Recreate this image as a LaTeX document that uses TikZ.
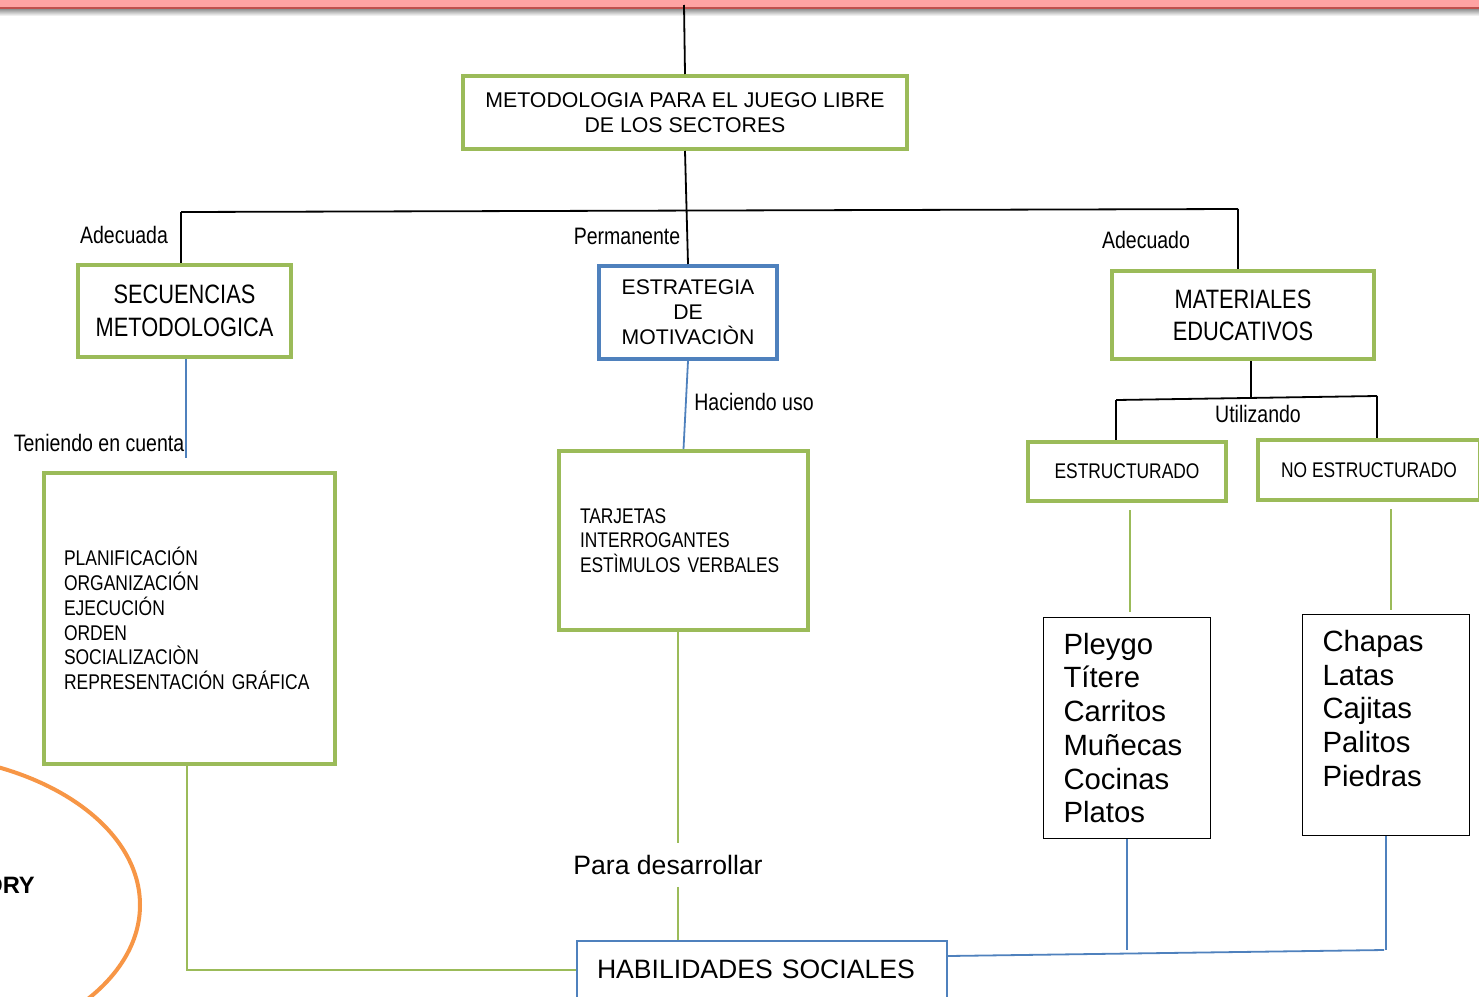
\documentclass[tikz,border=0pt]{standalone}
\usepackage{fontspec}
\setmainfont{Liberation Sans}
\newfontfamily\narrowfont[FakeStretch=0.82]{Liberation Sans}
\usepackage{tikz}
\usetikzlibrary{positioning, calc}
\definecolor{mapgreen}{HTML}{9BBB59}
\definecolor{mapblue}{HTML}{4F81BD}
\definecolor{maporange}{HTML}{F79646}
\definecolor{bandpink}{HTML}{FFA3A3}
\definecolor{bandred}{HTML}{C0504D}

\begin{document}
\begin{tikzpicture}[
        x=1pt, y=-1pt,
        greenbox/.style={draw=mapgreen, line width=4pt, inner sep=0pt},
        bluebox/.style={draw=mapblue, line width=4pt, inner sep=0pt},
        listbox/.style={draw=black, line width=1.3pt, align=left, inner xsep=20pt, inner ysep=0pt,
          minimum height=221pt, text width=127pt, font=\fontsize{29.3}{33.7}\selectfont},
        tag/.style={anchor=base, inner sep=0pt, font=\narrowfont\fontsize{23.8}{28}\selectfont},
        link/.style={line width=1.8pt},
        greenlink/.style={draw=mapgreen, line width=2pt},
        bluelink/.style={draw=mapblue, line width=1.8pt}
      ]

      \useasboundingbox (0,0) rectangle (1479,996);
      \fill[bandpink] (0,0) rectangle (1479,8);
      \shade[top color=black!45, bottom color=white] (0,8.6) rectangle (1479,16);
      \draw[bandred, line width=1.2pt] (0,8) -- (1479,8);

      \node[greenbox, minimum width=444pt, minimum height=73pt, align=center,
        font=\fontsize{21.3}{25}\selectfont] (metodologia) at (685,112.5)
        {METODOLOGIA PARA EL JUEGO LIBRE\\DE LOS SECTORES};

      \node[greenbox, minimum width=213pt, minimum height=92pt, align=center,
        font=\narrowfont\fontsize{26.6}{33}\selectfont] (secuencias) at (184.5,311)
        {SECUENCIAS\\METODOLOGICA};
      \node[bluebox, minimum width=178pt, minimum height=93pt, align=center,
        font=\fontsize{21.2}{25}\selectfont] (estrategia) at (688,312.5)
        {ESTRATEGIA\\DE\\MOTIVACIÒN};
      \node[greenbox, minimum width=262pt, minimum height=88pt, align=center,
        font=\narrowfont\fontsize{26.6}{32}\selectfont] (materiales) at (1243,315)
        {MATERIALES\\EDUCATIVOS};

      \node[greenbox, align=left, text width=251pt, inner xsep=20pt, minimum height=291pt,
        font=\narrowfont\fontsize{21.3}{24.8}\selectfont] (planificacion) at (189.5,618.5)
        {PLANIFICACIÓN\\ORGANIZACIÓN\\EJECUCIÓN\\ORDEN\\SOCIALIZACIÒN\\REPRESENTACIÓN GRÁFICA};
      \node[greenbox, align=left, text width=207pt, inner xsep=21pt, minimum height=179pt,
        font=\narrowfont\fontsize{21.2}{24.5}\selectfont] (tarjetas) at (683.5,540.5)
        {TARJETAS\\INTERROGANTES\\ESTÌMULOS VERBALES};

      \node[greenbox, minimum width=198pt, minimum height=59pt,
        font=\narrowfont\fontsize{21.2}{25}\selectfont] (estructurado) at (1127,471.5) {ESTRUCTURADO};
      \node[greenbox, minimum width=222pt, minimum height=60pt,
        font=\narrowfont\fontsize{21.2}{25}\selectfont] (noestructurado) at (1369,470) {NO ESTRUCTURADO};

      \node[listbox] (pleygo) at (1127,728) {Pleygo\\Títere\\Carritos\\Muñecas\\Cocinas\\Platos};
      \node[listbox] (chapas) at (1386,725) {Chapas\\Latas\\Cajitas\\Palitos\\Piedras\\\mbox{}};

      \node[draw=mapblue, line width=2pt, align=left, text width=330pt, inner xsep=20pt,
        minimum height=57pt, font=\fontsize{26.6}{30}\selectfont] (habilidades) at (762,969.5)
        {HABILIDADES SOCIALES};

      \node[tag] (adecuada) at (124,243.5) {Adecuada};
      \node[tag] (permanente) at (627,244.5) {Permanente};
      \node[tag] (adecuado) at (1146,248.5) {Adecuado};
      \node[tag] (teniendo) at (99,451.5) {Teniendo en cuenta};
      \node[tag] (haciendo) at (754,410.5) {Haciendo uso};
      \node[tag] (utilizando) at (1258,422.5) {Utilizando};
      \node[anchor=base, inner xsep=0pt, inner ysep=12pt,
        font=\fontsize{26.6}{30}\selectfont] (para) at (668,874.5) {Para desarrollar};

      \draw[maporange, line width=4pt] (-100,905) ellipse [x radius=240pt, y radius=151pt];
      \node[anchor=base east, inner sep=0pt, font=\bfseries\fontsize{23.7}{28}\selectfont]
        (ory) at (35,893) {ORY};

      \coordinate (topin) at (684,5);
      \coordinate (barL) at (181,212);
      \coordinate (barR) at (1238,209);
      \draw[link] (topin) -- (metodologia.north);
      \draw[link] (metodologia.south) -- (estrategia.north);
      \draw[link] (barL) -- (barR);
      \draw[link] (barL) -- (barL |- secuencias.north);
      \draw[link] (barR) -- (barR |- materiales.north);

      \coordinate (tenEnd) at (186,458);
      \coordinate (paraX) at (678,0);
      \coordinate (planX) at (187,970);
      \draw[bluelink] (secuencias.south -| tenEnd) -- (tenEnd);
      \draw[bluelink] (estrategia.south) -- (tarjetas.north);
      \draw[greenlink] (tarjetas.south -| paraX) -- (para.north -| paraX);
      \draw[greenlink] (para.south -| paraX) -- (habilidades.north -| paraX);
      \draw[greenlink] (planificacion.south -| planX) -- (planX) -- (habilidades.west |- planX);

      \coordinate (utilM) at (1251,398);
      \coordinate (utilL) at (1116,400);
      \coordinate (utilR) at (1377,396);
      \draw[link] (materiales.south -| utilM) -- (utilM);
      \draw[link] (utilL) -- (utilR);
      \draw[link] (utilL) -- (utilL |- estructurado.north);
      \draw[link] (utilR) -- (utilR |- noestructurado.north);
      \draw[greenlink, shorten <=7pt, shorten >=5pt] (estructurado.south -| 1130,0) -- (pleygo.north -| 1130,0);
      \draw[greenlink, shorten <=7pt, shorten >=4pt] (noestructurado.south -| 1391,0) -- (chapas.north -| 1391,0);

      \coordinate (habR) at (1384,950);
      \draw[bluelink] (habilidades.east |- 0,956) -- (habR);
      \draw[bluelink] (pleygo.south) -- (pleygo.south |- habR);
      \draw[bluelink] (chapas.south) -- (chapas.south |- habR);
      \end{tikzpicture}
\end{document}
